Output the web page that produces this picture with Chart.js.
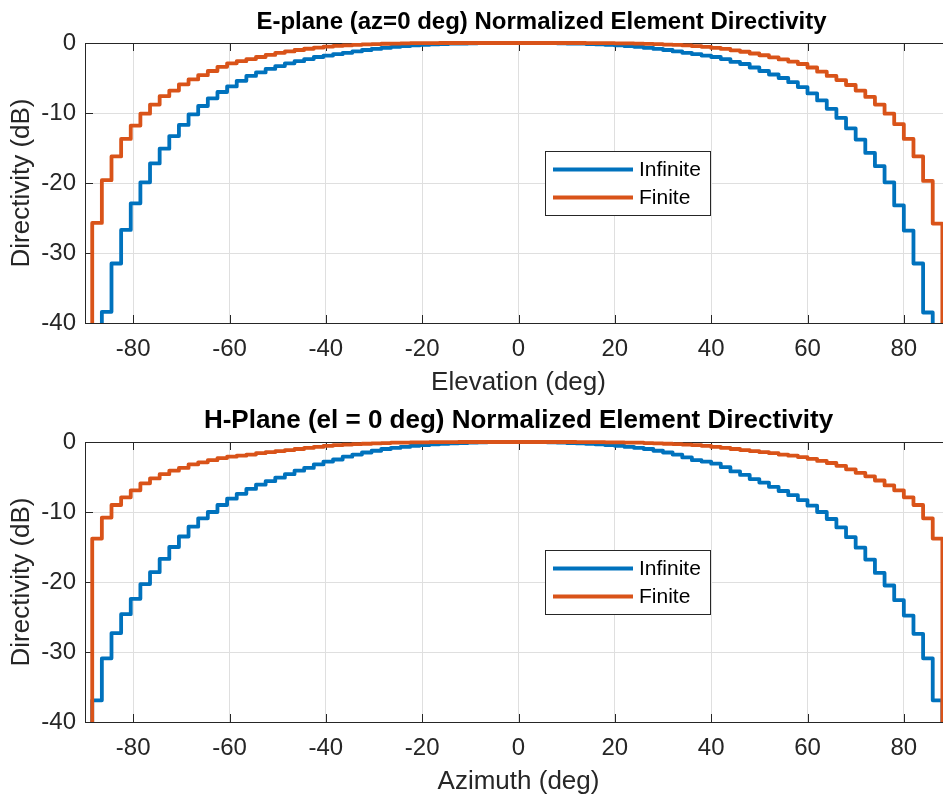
<!DOCTYPE html>
<html>
<head>
<meta charset="utf-8">
<script src="https://cdn.jsdelivr.net/npm/chart.js@4.4.0/dist/chart.umd.min.js"></script>
<style>
  html, body { margin: 0; padding: 0; background: #fff; overflow: hidden; }
  #wrap { position: relative; width: 943px; height: 794px; overflow: hidden; }
  canvas { position: absolute; left: 0; width: 1000px; height: 398px; }
  #topChart { top: 0; }
  #bottomChart { top: 399px; }
</style>
</head>
<body>
<div id="wrap">
  <canvas id="topChart" width="1000" height="398"></canvas>
  <canvas id="bottomChart" width="1000" height="398"></canvas>
</div>
<script>
// angles (deg) where each 2-degree step of the pattern sits
const angles = [
  -89.5, -87.5, -85.5, -83.5, -81.5, -79.5, -77.5, -75.5, -73.5, -71.5,
  -69.5, -67.5, -65.5, -63.5, -61.5, -59.5, -57.5, -55.5, -53.5, -51.5,
  -49.5, -47.5, -45.5, -43.5, -41.5, -39.5, -37.5, -35.5, -33.5, -31.5,
  -29.5, -27.5, -25.5, -23.5, -21.5, -19.5, -17.5, -15.5, -13.5, -11.5,
  -9.5, -7.5, -5.5, -3.5, -1.5,
  1, 3, 5, 7, 9, 11, 13, 15, 17, 19,
  21, 23, 25, 27, 29, 31, 33, 35, 37, 39,
  41, 43, 45, 47, 49, 51, 53, 55, 57, 59,
  61, 63, 65, 67, 69, 71, 73, 75, 77, 79,
  81, 83, 85, 87, 89
];

// E-plane (dB)
const eInfinite = [
  -50, -50, -38.4, -31.5, -26.7, -22.9, -19.9, -17.2, -15.1, -13.3,
  -11.7, -10.2, -9.0, -7.9, -7.0, -6.2, -5.4, -4.7, -4.2, -3.7,
  -3.3, -2.9, -2.6, -2.3, -2.0, -1.8, -1.6, -1.4, -1.2, -1.0,
  -0.85, -0.7, -0.55, -0.45, -0.35, -0.27, -0.2, -0.15, -0.1, -0.07,
  -0.05, -0.03, -0.02, -0.01, 0,
  0, -0.01, -0.02, -0.03, -0.05, -0.07, -0.1, -0.15, -0.2, -0.27,
  -0.35, -0.45, -0.55, -0.7, -0.85, -1.0, -1.2, -1.4, -1.6, -1.8,
  -2.0, -2.3, -2.7, -3.0, -3.5, -4.0, -4.5, -5.0, -5.6, -6.3,
  -7.2, -8.2, -9.4, -10.7, -12.2, -13.8, -15.7, -17.6, -19.9, -23.2,
  -26.8, -31.5, -38.5, -50, -50
];
const eFinite = [
  -50, -25.7, -19.6, -16.2, -13.7, -11.8, -10.1, -8.8, -7.6, -6.8,
  -5.9, -5.2, -4.6, -4.0, -3.4, -2.9, -2.6, -2.3, -2.0, -1.7,
  -1.4, -1.2, -1.0, -0.82, -0.67, -0.53, -0.42, -0.33, -0.26, -0.2,
  -0.15, -0.11, -0.08, -0.05, -0.03, -0.02, -0.01, 0, 0, 0,
  0, 0, 0, 0, 0,
  0, 0, 0, 0, 0, 0, 0, -0.01, -0.02, -0.03,
  -0.04, -0.06, -0.09, -0.12, -0.17, -0.22, -0.28, -0.35, -0.45, -0.55,
  -0.7, -0.85, -1.05, -1.25, -1.5, -1.75, -2.05, -2.35, -2.65, -3.0,
  -3.5, -4.1, -4.7, -5.3, -6.0, -6.8, -7.7, -8.8, -10.1, -11.6,
  -13.7, -16.2, -19.7, -25.8, -50
];

// H-plane (dB)
const hInfinite = [
  -50, -36.9, -30.9, -27.3, -24.6, -22.4, -20.3, -18.6, -16.7, -15.0,
  -13.5, -12.1, -10.9, -10.0, -9.0, -8.1, -7.4, -6.7, -6.1, -5.6,
  -5.1, -4.6, -4.1, -3.7, -3.2, -2.8, -2.5, -2.1, -1.8, -1.5,
  -1.25, -1.0, -0.85, -0.7, -0.55, -0.45, -0.35, -0.27, -0.2, -0.14,
  -0.1, -0.06, -0.03, -0.02, 0,
  0, -0.02, -0.03, -0.06, -0.1, -0.14, -0.2, -0.27, -0.35, -0.45,
  -0.55, -0.7, -0.85, -1.0, -1.25, -1.5, -1.8, -2.2, -2.6, -2.8,
  -3.1, -3.6, -4.2, -4.7, -5.3, -5.8, -6.4, -7.0, -7.6, -8.3,
  -9.1, -10.0, -11.0, -12.2, -13.6, -15.1, -16.8, -18.7, -20.5, -22.6,
  -24.8, -27.4, -30.9, -36.9, -50
];
const hFinite = [
  -50, -13.8, -10.8, -9.0, -7.9, -6.9, -5.9, -5.2, -4.6, -4.1,
  -3.7, -3.2, -2.9, -2.6, -2.3, -2.1, -1.95, -1.8, -1.6, -1.45,
  -1.3, -1.15, -1.0, -0.85, -0.7, -0.55, -0.45, -0.37, -0.3, -0.25,
  -0.2, -0.15, -0.1, -0.08, -0.05, -0.04, -0.03, -0.02, -0.01, 0,
  0, 0, 0, 0, 0,
  0, 0, 0, 0, 0, 0, -0.01, -0.02, -0.03, -0.04,
  -0.05, -0.08, -0.1, -0.15, -0.2, -0.25, -0.3, -0.37, -0.45, -0.55,
  -0.7, -0.85, -1.0, -1.15, -1.3, -1.45, -1.6, -1.8, -1.95, -2.15,
  -2.4, -2.7, -3.0, -3.4, -3.9, -4.4, -4.9, -5.5, -6.2, -6.9,
  -7.9, -9.0, -10.9, -13.8, -50
];

const xTicks = [-80, -60, -40, -20, 0, 20, 40, 60, 80];
const yTicks = [0, -10, -20, -30, -40];
const seriesNames = ['Infinite', 'Finite'];

const FONT = "'Liberation Sans', Arial, Helvetica, sans-serif";
const TXT = '#262626';
const BLUE = '#0072BD';
const ORANGE = '#D95319';

// axes title, box and inward tick marks, MATLAB style
const axesBox = {
  id: 'axesBox',
  beforeDatasetsDraw(chart, args, opts) {
    const { ctx, chartArea: a, scales } = chart;
    ctx.save();
    ctx.strokeStyle = TXT;
    ctx.lineWidth = 1;
    ctx.beginPath();
    scales.x.ticks.forEach(t => {
      const px = Math.round(scales.x.getPixelForValue(t.value)) + 0.5;
      ctx.moveTo(px, a.bottom); ctx.lineTo(px, a.bottom - 8);
      ctx.moveTo(px, a.top); ctx.lineTo(px, a.top + 8);
    });
    scales.y.ticks.forEach(t => {
      const py = Math.round(scales.y.getPixelForValue(t.value)) + 0.5;
      ctx.moveTo(a.left, py); ctx.lineTo(a.left + 8, py);
    });
    ctx.stroke();
    ctx.strokeRect(Math.round(a.left) + 0.5, Math.round(a.top) + 0.5,
      Math.round(a.right - a.left), Math.round(a.bottom - a.top));

    // title
    ctx.fillStyle = '#000';
    ctx.font = 'bold ' + opts.size + 'px ' + FONT;
    ctx.textAlign = 'center';
    ctx.textBaseline = 'middle';
    ctx.fillText(opts.text, (a.left + a.right) / 2 + opts.dx, 22);
    ctx.restore();
  }
};

// legend box inside the axes
const boxLegend = {
  id: 'boxLegend',
  afterDatasetsDraw(chart) {
    const { ctx, chartArea: a } = chart;
    const left = 545, top = a.top + 108, w = 165, h = 64;
    ctx.save();
    ctx.fillStyle = '#fff';
    ctx.fillRect(left, top, w, h);
    ctx.strokeStyle = TXT;
    ctx.lineWidth = 1;
    ctx.strokeRect(left + 0.5, top + 0.5, w, h);
    chart.data.datasets.forEach((ds, i) => {
      const y = top + 18.5 + i * 28;
      ctx.strokeStyle = ds.borderColor;
      ctx.lineWidth = 4;
      ctx.beginPath();
      ctx.moveTo(left + 8, y);
      ctx.lineTo(left + 88, y);
      ctx.stroke();
      ctx.fillStyle = '#000';
      ctx.font = '21px ' + FONT;
      ctx.textBaseline = 'middle';
      ctx.fillText(ds.label, left + 94, y + 1);
    });
    ctx.restore();
  }
};

function makeChart(id, title, titleSize, titleDx, xTitle, infinite, finite) {
  const series = [infinite, finite];
  const colors = [BLUE, ORANGE];
  return new Chart(document.getElementById(id), {
    type: 'line',
    data: {
      datasets: series.map((vals, i) => ({
        label: seriesNames[i],
        data: angles.map((a, j) => ({ x: a, y: vals[j] })),
        borderColor: colors[i],
        backgroundColor: colors[i],
        borderWidth: 3.8,
        borderJoinStyle: 'round',
        pointRadius: 0,
        stepped: 'middle',
        fill: false,
        order: 2 - i,
        clip: { left: 4, top: 4, right: 4, bottom: 0 }
      }))
    },
    options: {
      responsive: false,
      animation: false,
      devicePixelRatio: 1,
      layout: { padding: { left: 0, right: 48, top: 43, bottom: 0 } },
      plugins: {
        legend: { display: false },
        tooltip: { enabled: false },
        title: { display: false },
        axesBox: { text: title, size: titleSize, dx: titleDx }
      },
      scales: {
        x: {
          type: 'linear',
          min: -90,
          max: 90,
          afterBuildTicks: s => { s.ticks = xTicks.map(v => ({ value: v })); },
          afterFit: s => { s.height = 75; },
          grid: { color: '#dfdfdf', drawTicks: false },
          border: { display: false },
          ticks: { color: TXT, font: { family: FONT, size: 24 }, padding: 12, maxRotation: 0, autoSkip: false },
          title: { display: true, text: xTitle, color: TXT, font: { family: FONT, size: 26 }, padding: { top: 0, bottom: 0 } }
        },
        y: {
          min: -40,
          max: 0,
          afterBuildTicks: s => { s.ticks = yTicks.map(v => ({ value: v })); },
          afterFit: s => { s.width = 85; },
          grid: { color: '#dfdfdf', drawTicks: false },
          border: { display: false },
          ticks: { color: TXT, font: { family: FONT, size: 24 }, padding: 9 },
          title: { display: true, text: 'Directivity (dB)', color: TXT, font: { family: FONT, size: 26 }, padding: { top: 6.4, bottom: 0 } }
        }
      }
    },
    plugins: [axesBox, boxLegend]
  });
}

makeChart('topChart', 'E-plane (az=0 deg) Normalized Element Directivity', 24, 23,
  'Elevation (deg)', eInfinite, eFinite);
makeChart('bottomChart', 'H-Plane (el = 0 deg) Normalized Element Directivity', 26, 0,
  'Azimuth (deg)', hInfinite, hFinite);
</script>
</body>
</html>
